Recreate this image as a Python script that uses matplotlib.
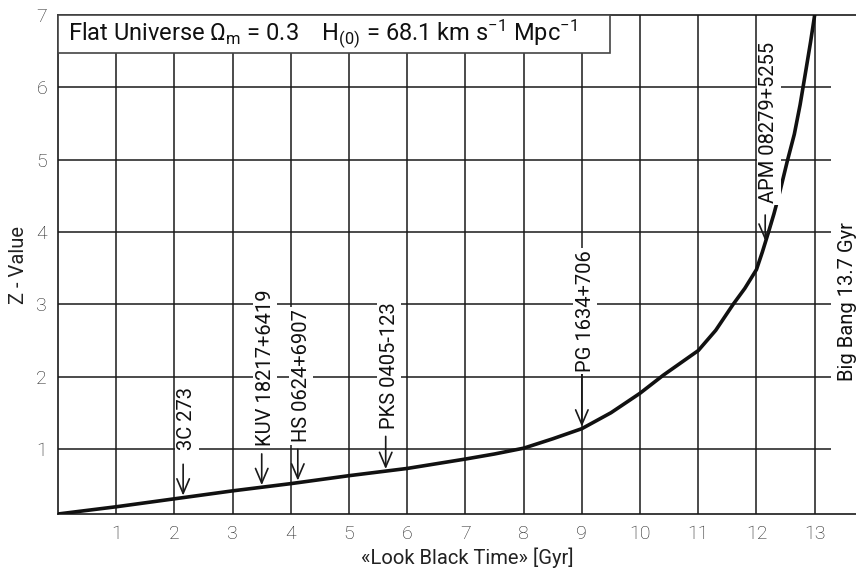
import numpy as np
import matplotlib
matplotlib.use("Agg")
import matplotlib.pyplot as plt
from matplotlib.patches import Rectangle

# ---- data ----
lookback_gyr = [0, 1, 2, 3, 4, 5, 6, 7, 7.5, 8, 8.5, 9, 9.5, 10, 10.4, 11, 11.3,
                11.6, 11.8, 12, 12.1, 12.2, 12.3, 12.4, 12.53, 12.65, 12.75, 12.85, 12.93, 13.0]
z_value = [0.1, 0.2, 0.31, 0.42, 0.52, 0.63, 0.73, 0.86, 0.93, 1.01, 1.14, 1.28, 1.5, 1.77, 2.02, 2.36, 2.64,
           3.0, 3.22, 3.48, 3.72, 3.98, 4.25, 4.55, 4.98, 5.35, 5.76, 6.24, 6.63, 7.0]

quasar_names = ["3C 273", "KUV 18217+6419", "HS 0624+6907", "PKS 0405-123", "PG 1634+706", "APM 08279+5255"]
quasar_time = [2.15, 3.5, 4.12, 5.63, 9.0, 12.15]

x_ticks = list(range(1, 14))
y_ticks = list(range(1, 8))
title_text = r"Flat Universe $\Omega_\mathrm{m}$ = 0.3    H$_{(0)}$ = 68.1 km s$^{-1}$ Mpc$^{-1}$"
big_bang_text = "Big Bang 13.7 Gyr"
x_label = "«Look Black Time» [Gyr]"
y_label = "Z - Value"

# layout (arrow lengths / text offsets in points)
arrow_len = [24, 24, 24, 25, 41, 20]
text_off = [34, 30, 29, 30, 41, 29]

plt.rcParams['font.family'] = ['Roboto', 'DejaVu Sans']
plt.rcParams['mathtext.fontset'] = 'custom'
plt.rcParams['mathtext.rm'] = 'Roboto'
plt.rcParams['mathtext.it'] = 'Roboto'
plt.rcParams['mathtext.bf'] = 'Roboto'

INK = '#1a1a1a'
fig = plt.figure(figsize=(8.56, 5.68), dpi=100)
ax = fig.add_axes([58/856, 54/568, 798/856, 499/568])
ax.set_xlim(0, 13.71)
ax.set_ylim(0.1, 7)

# grid
for xv in x_ticks:
    ax.axvline(xv, color=INK, lw=1.1, zorder=1)
ax.hlines(y_ticks[:-1], 0, 13.28, color=INK, lw=1.1, zorder=1)

ax.plot(lookback_gyr, z_value, color='#111111', lw=2.6, zorder=3,
        solid_capstyle='round', solid_joinstyle='round')

for spine in ['left', 'bottom', 'top']:
    ax.spines[spine].set_color(INK)
    ax.spines[spine].set_linewidth(1.2)
ax.spines['right'].set_visible(False)

ax.set_xticks(x_ticks)
ax.set_yticks(y_ticks)
ax.tick_params(length=0, labelsize=14, colors='#222222', pad=8)
for lab in ax.get_xticklabels() + ax.get_yticklabels():
    lab.set_fontweight('light')

ax.set_xlabel(x_label, fontsize=14.5, color='#222222')
ax.xaxis.set_label_coords(0.5125, -0.068)
ax.set_ylabel(y_label, fontsize=14.5, color='#222222')
ax.yaxis.set_label_coords(-0.038, 0.5)

# annotations
for name, t, al, to in zip(quasar_names, quasar_time, arrow_len, text_off):
    zc = np.interp(t, lookback_gyr, z_value)
    ax.annotate('', xy=(t, zc), xytext=(0, al), textcoords='offset points',
                arrowprops=dict(arrowstyle='->,head_length=0.75,head_width=0.32',
                                color=INK, lw=1.2, shrinkA=0, shrinkB=1.5,
                                mutation_scale=14),
                zorder=4)
    ax.annotate(name, xy=(t, zc), xytext=(2.5, to), textcoords='offset points',
                rotation=90, ha='center', va='bottom', fontsize=14.5, color='#111111',
                bbox=dict(boxstyle='square,pad=0.12', fc='white', ec='none'), zorder=5)

ax.text(13.56, 3.04, big_bang_text, rotation=90, ha='center', va='center',
        fontsize=14.5, color='#111111', zorder=5)

# title box
ax.add_patch(Rectangle((0, 0.924), 0.692, 0.076, transform=ax.transAxes,
                       fc='white', ec='#444444', lw=1.2, zorder=6, clip_on=False))
ax.text(0.0125, 0.962, title_text, transform=ax.transAxes, ha='left', va='center',
        fontsize=17, color='#111111', zorder=7)

fig.savefig('out.png', dpi=100)
